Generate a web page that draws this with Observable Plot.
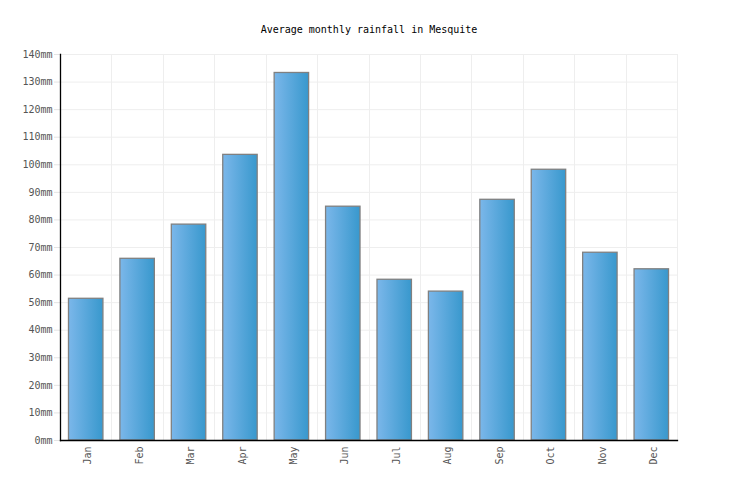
<!DOCTYPE html>
<html>
<head>
<meta charset="utf-8">
<script src="https://cdn.jsdelivr.net/npm/d3@7"></script>
<script src="https://cdn.jsdelivr.net/npm/@observablehq/plot@0.6"></script>
<style>
  body { margin: 0; background: white; }
</style>
</head>
<body>
<div id="chart"></div>
<script>
const title = "Average monthly rainfall in Mesquite";
const months = ["Jan","Feb","Mar","Apr","May","Jun","Jul","Aug","Sep","Oct","Nov","Dec"];
const rainfall = [51.4, 65.9, 78.3, 103.6, 133.3, 84.8, 58.3, 54.0, 87.3, 98.2, 68.1, 62.1];
const yTicks = [0,10,20,30,40,50,60,70,80,90,100,110,120,130,140];
const unit = "mm";

const data = months.map((m, i) => ({month: m, value: rainfall[i]}));

const gradientDefs = () => {
  const defs = d3.create("svg:defs");
  const g = defs.append("linearGradient").attr("id", "barGrad")
    .attr("x1", "0").attr("x2", "1").attr("y1", "0").attr("y2", "0");
  g.append("stop").attr("offset", "0%").attr("stop-color", "#7bb7ea");
  g.append("stop").attr("offset", "100%").attr("stop-color", "#3898cd");
  return defs.node();
};

const bandGrid = (index, scales, values, dim) => {
  const g = d3.create("svg:g").attr("stroke", "#eeeeee").attr("stroke-width", 1);
  const x0 = dim.marginLeft, x1 = dim.width - dim.marginRight;
  const step = (x1 - x0) / months.length;
  for (let k = 0; k <= months.length; k++) {
    const xx = Math.round(x0 + k * step) + 0.5;
    g.append("line").attr("x1", xx).attr("x2", xx)
      .attr("y1", dim.marginTop).attr("y2", dim.height - dim.marginBottom);
  }
  return g.node();
};

const chart = Plot.plot({
  width: 736,
  height: 500,
  marginLeft: 60,
  marginRight: 59,
  marginTop: 54,
  marginBottom: 60,
  style: {fontFamily: "'DejaVu Sans Mono', monospace", fontSize: "10px", background: "white"},
  x: {domain: months, paddingInner: 0.33, paddingOuter: 0.165, round: false, label: null, axis: null},
  y: {domain: [0, 140], label: null, axis: null},
  marks: [
    gradientDefs,
    bandGrid,
    Plot.gridY(yTicks, {stroke: "#eeeeee", strokeOpacity: 1}),
    Plot.barY(data, {x: "month", y: "value", fill: "url(#barGrad)", stroke: "#808080", strokeWidth: 1.3}),
    Plot.axisY(yTicks, {tickSize: 6, stroke: "#e4e4e4", strokeOpacity: 1, fill: "#555", tickPadding: 2, tickFormat: d => d + unit, label: null}),
    Plot.axisX({tickRotate: -90, tickSize: 0, tickPadding: 6, dx: 2, fill: "#555", label: null}),
    Plot.frame({anchor: "left", stroke: "black", strokeWidth: 1.3}),
    Plot.frame({anchor: "bottom", stroke: "black", strokeWidth: 1.3}),
    Plot.text([title], {frameAnchor: "top", dy: -29, fill: "black", fontSize: 10})
  ]
});

document.getElementById("chart").append(chart);
</script>
</body>
</html>
